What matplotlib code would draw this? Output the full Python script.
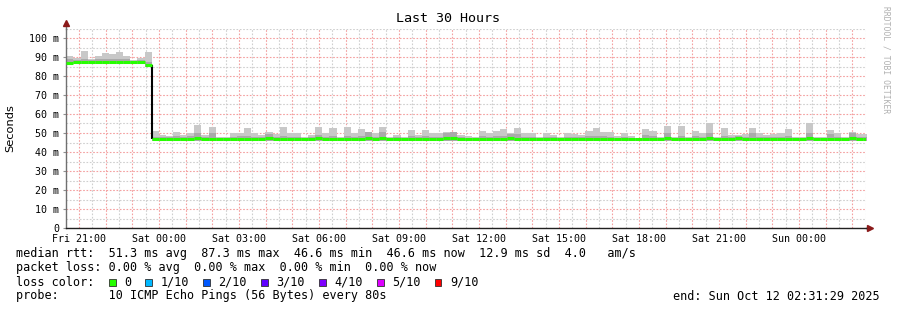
import numpy as np
import matplotlib
matplotlib.use("Agg")
import matplotlib.pyplot as plt
from matplotlib.lines import Line2D
from matplotlib.patches import Rectangle

# --- data (16 minute consolidated steps, hours since Fri 20:31:29) ---
step_min = 16
smoke_max = [90.5, 89.3, 93.2, 88.8, 90.5, 92.3, 91.6, 92.6, 90.5, 88.2, 89.6, 92.6,
             51.2, 49.1, 48.5, 50.5, 48.8, 50.2, 54.4, 48.8, 53.3, 48.1, 47.9, 50.2, 50.2, 52.6, 50.2, 49.1, 50.5, 49.5, 53.3, 50.2,
             50.2, 48.0, 48.8, 53.3, 50.2, 52.6, 48.0, 53.1, 50.2, 52.0, 50.5, 50.2, 53.1, 48.0, 49.1, 48.0, 51.4, 48.8, 51.4, 50.2,
             50.2, 50.5, 50.5, 48.8, 48.4, 48.0, 51.0, 49.8, 51.0, 52.0, 50.2, 52.6, 50.2, 50.2, 48.0, 49.8, 48.8, 48.0, 50.2, 49.5, 48.8,
             51.0, 52.6, 50.5, 50.5, 48.4, 49.8, 48.4, 47.4, 52.0, 51.0, 48.0, 53.7, 48.0, 53.7, 48.0, 51.0, 50.2, 55.3, 48.0, 52.6,
             49.1, 49.1, 49.5, 52.6, 49.8, 48.8, 49.5, 50.2, 52.0, 48.0, 48.0, 55.3, 48.0, 47.7, 51.4, 49.8, 48.0, 50.5, 49.5, 49.5]
smoke_mid = [89.0, 88.5, 89.0, 88.3, 88.8, 89.2, 89.0, 89.0, 88.8, 88.0, 88.5, 87.5,
             48.0, 47.8, 47.8, 48.2, 47.8, 48.5, 50.2, 47.8, 50.0, 47.6, 47.6, 48.0, 48.2, 48.5, 48.0, 47.8, 49.5, 48.0, 48.2, 48.0,
             48.0, 47.6, 47.8, 49.0, 48.0, 48.2, 47.6, 48.6, 48.0, 48.2, 50.5, 48.0, 50.5, 47.6, 47.8, 47.6, 48.2, 47.8, 48.2, 48.0,
             48.0, 50.2, 50.5, 47.8, 47.6, 47.6, 48.2, 48.0, 48.2, 48.5, 49.5, 49.5, 48.0, 48.0, 47.6, 48.0, 47.8, 47.6, 48.0, 47.8, 47.8,
             48.2, 48.5, 48.2, 48.0, 47.6, 48.0, 47.6, 47.4, 49.0, 48.2, 47.6, 50.2, 47.6, 48.5, 47.6, 48.2, 48.0, 50.0, 47.6, 48.5,
             47.8, 48.5, 48.0, 50.0, 48.0, 47.8, 48.0, 48.0, 48.5, 47.6, 47.6, 50.0, 47.6, 47.6, 49.5, 48.0, 47.6, 50.0, 48.0, 48.0]
smoke_min = [86.5] * 11 + [84.7] + [46.0] * 101
median = [87.0, 87.6, 87.6, 87.3, 87.3, 87.3, 87.3, 87.5, 87.6, 87.3, 87.6, 85.8,
          47.0, 46.8, 46.8, 47.0, 47.0, 46.8, 47.2, 47.0, 47.0, 46.8, 46.8, 47.0, 47.0, 46.8, 47.0, 47.0, 47.2, 47.0, 46.8, 47.0,
          47.0, 46.8, 47.0, 47.2, 47.0, 47.0, 46.8, 47.0, 47.0, 47.0, 47.2, 47.0, 47.2, 46.8, 47.0, 46.8, 47.0, 47.0, 47.0, 47.0,
          47.0, 47.2, 47.2, 47.0, 46.8, 46.8, 47.0, 47.0, 47.0, 47.0, 47.2, 47.0, 47.0, 47.0, 46.8, 47.0, 46.8, 46.8, 47.0, 47.0, 46.8,
          47.0, 47.0, 47.0, 47.0, 46.8, 47.0, 46.8, 46.6, 47.0, 47.0, 46.8, 47.2, 46.8, 47.0, 46.8, 47.0, 47.0, 47.2, 46.8, 47.0,
          47.0, 47.2, 47.0, 47.0, 47.0, 46.8, 47.0, 47.0, 47.0, 46.8, 46.8, 47.2, 46.8, 46.8, 47.0, 47.0, 46.8, 47.2, 47.0, 47.0]

start_offset_h = (28 * 60 + 31) / 3600.0   # Fri 20:31:29 -> Fri 21:00
tick_labels = ["Fri 21:00", "Sat 00:00", "Sat 03:00", "Sat 06:00", "Sat 09:00",
               "Sat 12:00", "Sat 15:00", "Sat 18:00", "Sat 21:00", "Sun 00:00"]
ytick_vals = [0, 10, 20, 30, 40, 50, 60, 70, 80, 90, 100]
ytick_labels = ["0"] + ["%d m" % v for v in ytick_vals[1:]]

legend_rtt = "median rtt:  51.3 ms avg  87.3 ms max  46.6 ms min  46.6 ms now  12.9 ms sd  4.0   am/s"
legend_loss = "packet loss: 0.00 % avg  0.00 % max  0.00 % min  0.00 % now"
loss_labels = ["0", "1/10", "2/10", "3/10", "4/10", "5/10", "9/10"]
loss_colors = ["#26ff00", "#00b8ff", "#0059ff", "#5e00ff", "#7e00ff", "#dd00ff", "#ff0000"]
probe_text = "probe:       10 ICMP Echo Pings (56 Bytes) every 80s"
end_text = "end: Sun Oct 12 02:31:29 2025"

MONO = "DejaVu Sans Mono"
W, H = 897, 310

def fx(px):
    return px / W

def fy(py):
    return 1 - py / H

fig = plt.figure(figsize=(W / 100, H / 100), dpi=100)
ax = fig.add_axes([fx(66.3), 82 / H, 800 / W, 199.5 / H])

n = len(median)
edges = np.arange(n + 1) * step_min / 60.0
def ext(a):
    a = np.asarray(a, dtype=float)
    return np.append(a, a[-1])

ax.fill_between(edges, ext(smoke_min), ext(smoke_max), step="post", color="#c8c8c8", lw=0, zorder=2)
ax.fill_between(edges, ext(smoke_min), ext(smoke_mid), step="post", color="#aaaaaa", lw=0, zorder=2)

# big step of the median drawn in black, the median itself in loss colour
med = np.asarray(median)
j = int(np.argmax(np.abs(np.diff(med)))) + 1
ax.vlines(edges[j], med[j], med[j - 1], color="black", lw=1.5, zorder=3)
ax.hlines(med, edges[:-1], edges[1:], color="#26ff00", lw=2.2, zorder=4)

ax.set_xlim(0, 30)
ax.set_ylim(0, 105)

# grid
hours = np.arange(start_offset_h, 30, 1.0)
halves = np.arange(start_offset_h - 0.5, 30, 1.0)
halves = halves[halves > 0]
ax.set_xticks(hours)
ax.set_xticks(halves, minor=True)
lbls = []
k = 0
for i, h in enumerate(hours):
    if i % 3 == 0 and k < len(tick_labels):
        lbls.append(tick_labels[k])
        k += 1
    else:
        lbls.append("")
ax.set_xticklabels(lbls, fontfamily=MONO, fontsize=7.2)
ax.set_yticks(ytick_vals)
ax.set_yticks(np.arange(5, 106, 10), minor=True)
ax.set_yticklabels(ytick_labels, fontfamily=MONO, fontsize=7.2)
ax.grid(True, which="major", color="#f4a0a0", lw=0.8, ls=(0, (1.5, 1.5)), zorder=1)
ax.grid(True, which="minor", color="#cfcfcf", lw=0.8, ls=(0, (1.5, 1.5)), zorder=1)
ax.tick_params(axis="x", which="both", length=0, pad=4.5)
ax.tick_params(axis="y", which="major", length=2, color="#909090", pad=3)
ax.tick_params(axis="y", which="minor", length=0)
ax.set_axisbelow(True)

for s in ["top", "right"]:
    ax.spines[s].set_visible(False)
ax.spines["left"].set_color("#707070")
ax.spines["bottom"].set_color("#202020")
ax.spines["left"].set_linewidth(1.0)
ax.spines["bottom"].set_linewidth(1.0)
ax.add_line(Line2D([0, 0], [1, 1.03], transform=ax.transAxes, color="#707070", lw=1.0, clip_on=False))
ax.add_line(Line2D([1, 1.004], [0, 0], transform=ax.transAxes, color="#202020", lw=1.0, clip_on=False))
ax.plot([0], [1.03], marker="^", ms=4, color="#8b1a1a", transform=ax.transAxes, clip_on=False)
ax.plot([1.005], [0], marker=">", ms=4, color="#8b1a1a", transform=ax.transAxes, clip_on=False)

ax.set_ylabel("Seconds", fontsize=8.2)
ax.yaxis.set_label_coords(-(66 - 15) / 800, 0.5)

fig.text(fx(448), fy(19), "Last 30 Hours", fontfamily=MONO, fontsize=9.6, ha="center", va="center")
fig.text(fx(886), fy(60), "RRDTOOL / TOBI OETIKER", fontfamily=MONO, fontsize=5.8,
         color="#b0b0b0", rotation=-90, ha="center", va="center")

fs = 8.5
fig.text(fx(16), fy(254), legend_rtt, fontfamily=MONO, fontsize=fs, va="center")
fig.text(fx(16), fy(268), legend_loss, fontfamily=MONO, fontsize=fs, va="center")
fig.text(fx(16), fy(282), "loss color:", fontfamily=MONO, fontsize=fs, va="center")
xs = 109.0
for lab, col in zip(loss_labels, loss_colors):
    fig.patches.append(Rectangle((fx(xs), fy(285.5)), 6.5 / W, 6.5 / H, transform=fig.transFigure,
                                 facecolor=col, edgecolor="#303030", lw=0.6))
    fig.text(fx(xs + 15), fy(282), lab, fontfamily=MONO, fontsize=fs, va="center")
    xs = xs + 15 + (len(lab) + 2) * 7.15
fig.text(fx(16), fy(296), probe_text, fontfamily=MONO, fontsize=fs, va="center")
fig.text(fx(880), fy(296), end_text, fontfamily=MONO, fontsize=fs, va="center", ha="right")

fig.savefig("out.png", dpi=100, facecolor="white")
